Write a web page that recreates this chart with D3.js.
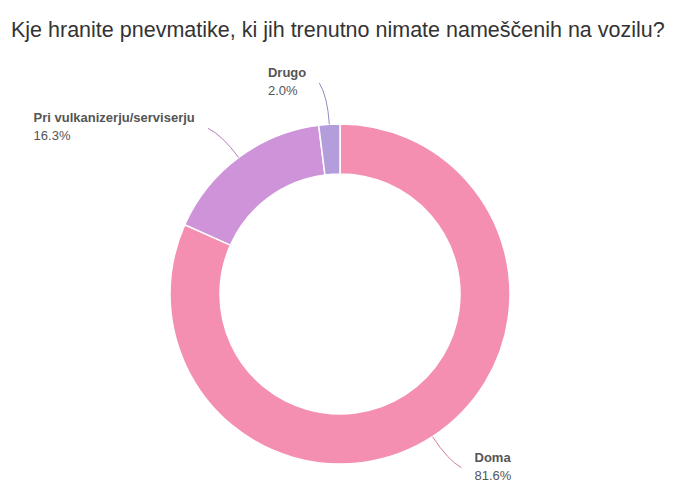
<!DOCTYPE html>
<html>
<head>
<meta charset="utf-8">
<script src="https://cdn.jsdelivr.net/npm/d3@7"></script>
<style>
  body { margin: 0; background: #fff; }
  svg { display: block; }
</style>
</head>
<body>
<svg id="chart" width="680" height="494"></svg>
<script>
var title = 'Kje hranite pnevmatike, ki jih trenutno nimate nameščenih na vozilu?';
var categories = ['Doma', 'Pri vulkanizerju/serviserju', 'Drugo'];
var shares = [81.6, 16.3, 2.0];
var colors = ['#f48fb1', '#ce93d8', '#b39ddb'];

var cx = 340, cy = 294;
var OUTER = 170, INNER = 120;
var LEADER_END = 212, LEADER_CTRL = 198;
var GAP = 13;

var svg = d3.select('#chart');

svg.append('text')
    .attr('x', 11)
    .attr('y', 37)
    .attr('font-family', 'Liberation Sans, Arial, sans-serif')
    .attr('font-size', 21.5)
    .attr('fill', '#333')
    .text(title);

var data = categories.map(function(c, i) {
    return { name: c, value: shares[i], color: colors[i] };
});

var pie = d3.pie()
    .sort(null)
    .value(function(d) { return d.value; });

var arc = d3.arc()
    .innerRadius(INNER)
    .outerRadius(OUTER);

var g = svg.append('g')
    .attr('transform', 'translate(' + cx + ',' + cy + ')');

var slices = pie(data);

g.selectAll('path.slice')
    .data(slices)
    .enter()
    .append('path')
    .attr('class', 'slice')
    .attr('d', arc)
    .attr('fill', function(d) { return d.data.color; })
    .attr('stroke', '#fff')
    .attr('stroke-width', 1.5);

// point on a circle of radius r at d3-pie angle a (0 = 12 o'clock, clockwise)
function polar(r, a) {
    return [r * Math.sin(a), -r * Math.cos(a)];
}

function midAngle(d) { return (d.startAngle + d.endAngle) / 2; }

var shift = 2 * Math.PI / 180; // leaders lean a little counter-clockwise

var labels = g.selectAll('g.label')
    .data(slices)
    .enter()
    .append('g')
    .attr('class', 'label');

labels.append('path')
    .attr('fill', 'none')
    .attr('stroke', function(d) { return d3.color(d.data.color).darker(0.4); })
    .attr('stroke-width', 1)
    .attr('d', function(d) {
        var mid = midAngle(d);
        var p0 = polar(OUTER, mid);
        var p1 = polar(LEADER_CTRL, mid);
        var p2 = polar(LEADER_END, mid - shift);
        var path = d3.path();
        path.moveTo(p0[0], p0[1]);
        path.quadraticCurveTo(p1[0], p1[1], p2[0], p2[1]);
        return path.toString();
    });

var txt = labels.append('text')
    .attr('font-family', 'Liberation Sans, Arial, sans-serif')
    .attr('font-size', 13)
    .attr('fill', '#555');

txt.append('tspan')
    .attr('x', 0)
    .attr('y', 0)
    .attr('font-weight', 'bold')
    .text(function(d) { return d.data.name; });

txt.append('tspan')
    .attr('x', 0)
    .attr('y', 18)
    .text(function(d) { return d3.format('.1f')(d.data.value) + '%'; });

// labels are left aligned; blocks on the left side sit left of the leader end
txt.attr('transform', function(d) {
    var mid = midAngle(d) - shift;
    var p = polar(LEADER_END, mid);
    var x;
    if (Math.sin(mid) < 0) {
        var w = this.getBBox().width;
        x = p[0] - GAP - w;
    } else {
        x = p[0] + GAP;
    }
    return 'translate(' + x + ',' + (p[1] - 6) + ')';
});
</script>
</body>
</html>
